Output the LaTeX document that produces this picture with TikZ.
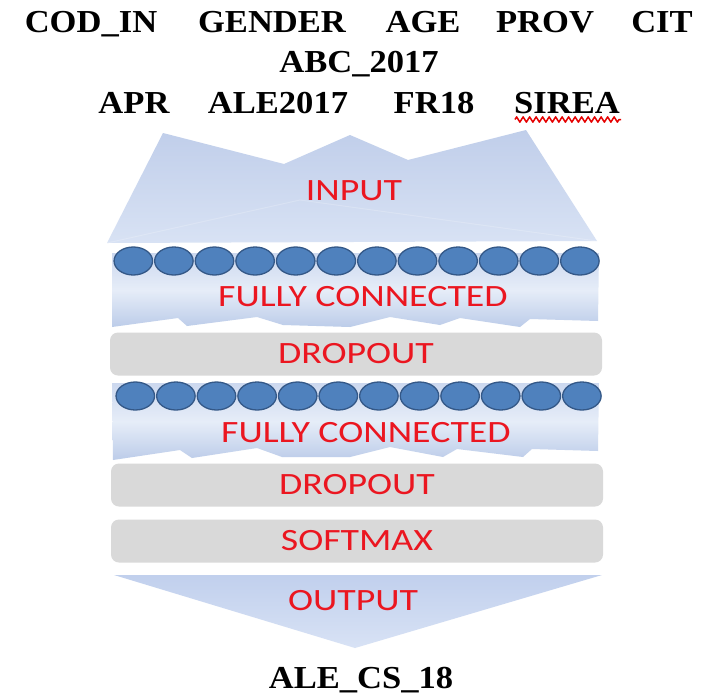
\documentclass[tikz,border=0pt]{standalone}
\usepackage{fontspec}
\usepackage{graphicx}
\setmainfont{Liberation Serif}
\newfontfamily\lblfont{Carlito}
\usetikzlibrary{shapes.geometric,decorations.pathmorphing}
\definecolor{lblred}{RGB}{235,22,32}
\definecolor{circfill}{RGB}{79,129,189}
\definecolor{circline}{RGB}{52,88,135}
\definecolor{boxgray}{RGB}{217,217,217}
\definecolor{intop}{RGB}{192,206,234}
\definecolor{inbot}{RGB}{216,226,244}
\definecolor{bandtop}{RGB}{204,216,239}
\definecolor{bandmid}{RGB}{230,237,248}
\definecolor{bandbot}{RGB}{188,204,233}
\definecolor{outtop}{RGB}{193,208,237}
\definecolor{outbot}{RGB}{216,226,245}
\newcommand{\ttl}[1]{\scalebox{1.08}[1]{#1}}
\newcommand{\lbl}[1]{\scalebox{1.22}[1]{#1}}
\tikzset{
  titletext/.style={font=\fontsize{32}{38}\selectfont\bfseries, anchor=base, inner sep=0pt, text=black},
  layertext/.style={font=\lblfont\fontsize{31}{36}\selectfont, text=lblred, inner sep=0pt},
  graybox/.style={draw=none, fill=boxgray, rounded corners=8pt, minimum width=492pt, minimum height=43pt, inner sep=0pt, font=\lblfont\fontsize{31}{36}\selectfont, text=lblred},
  neuron/.style={ellipse, draw=circline, line width=1.3pt, fill=circfill, minimum width=38.5pt, minimum height=28pt, inner sep=0pt},
  bandshape/.style={top color=bandtop, bottom color=bandbot, middle color=bandmid, draw=none}
}
\begin{document}
\begin{tikzpicture}[x=1pt,y=-1pt]
\useasboundingbox (0,0) rectangle (718,697);
\fill[white] (0,0) rectangle (718,697);

% title words
\node[titletext] (w1) at (91,32) {\ttl{COD\_IN}};
\node[titletext] (w2) at (272,32) {\ttl{GENDER}};
\node[titletext] (w3) at (423,32) {\ttl{AGE}};
\node[titletext] (w4) at (545,32) {\ttl{PROV}};
\node[titletext] (w5) at (662,32) {\ttl{CIT}};
\node[titletext] (w6) at (359,72) {\ttl{ABC\_2017}};
\node[titletext] (w7) at (134,113) {\ttl{APR}};
\node[titletext] (w8) at (278,113) {\ttl{ALE2017}};
\node[titletext] (w9) at (434,113) {\ttl{FR18}};
\node[titletext] (w10) at (567,113) {\ttl{SIREA}};
\coordinate (ul1) at (515,119.5);
\coordinate (ul2) at (621,119.5);
\draw[red!90!black, line width=1.5pt, line join=round, decorate, decoration={zigzag, amplitude=2.6pt, segment length=6.5pt}] (ul1) -- (ul2);

% input shape
\shade[top color=intop, bottom color=inbot]
  (107,243) -- (163,133) -- (284,164) -- (350,135) -- (408,160) -- (526,130) -- (597,241) -- cycle;
\draw[white, opacity=0.2, line width=1pt] (107,243) -- (300,200) -- (597,241);

% fully connected band 1
\shade[bandshape]
  (112,253) -- (599,253) -- (598,321) -- (530,319) -- (520,327) -- (460,318) -- (440,325) -- (390,317)
  -- (350,327) -- (283,325) -- (257,317) -- (187,326) -- (178,318) -- (112,327) -- cycle;
% fully connected band 2
\begin{scope}[shift={(0,130)}]
\shade[bandshape]
  (112,253) -- (599,253) -- (598,321) -- (532,319) -- (523,327) -- (457,319) -- (443,327) -- (390,317)
  -- (350,327) -- (282,327) -- (257,318) -- (192,328) -- (180,320) -- (113,330) -- cycle;
\end{scope}

% neurons
\foreach \i in {0,...,11} {
  \node[neuron] (na\i) at ({133.3+40.6*\i},261) {};
  \node[neuron] (nb\i) at ({135.3+40.6*\i},396) {};
}

% gray boxes
\node[graybox] (drop1) at (356,354) {\lbl{DROPOUT}};
\node[graybox] (drop2) at (357,485) {\lbl{DROPOUT}};
\node[graybox] (soft) at (357,541) {\lbl{SOFTMAX}};

% output shape
\shade[top color=outtop, bottom color=outbot] (114,575) -- (602,575) -- (355,648) -- cycle;

% layer labels
\node[layertext] (inp) at (354,191) {\lbl{INPUT}};
\node[layertext] (fc1) at (363,297) {\lbl{FULLY CONNECTED}};
\node[layertext] (fc2) at (366,433) {\lbl{FULLY CONNECTED}};
\node[layertext] (outp) at (353,601) {\lbl{OUTPUT}};

% output name
\node[titletext] (res) at (361,688) {\ttl{ALE\_CS\_18}};
\end{tikzpicture}
\end{document}
